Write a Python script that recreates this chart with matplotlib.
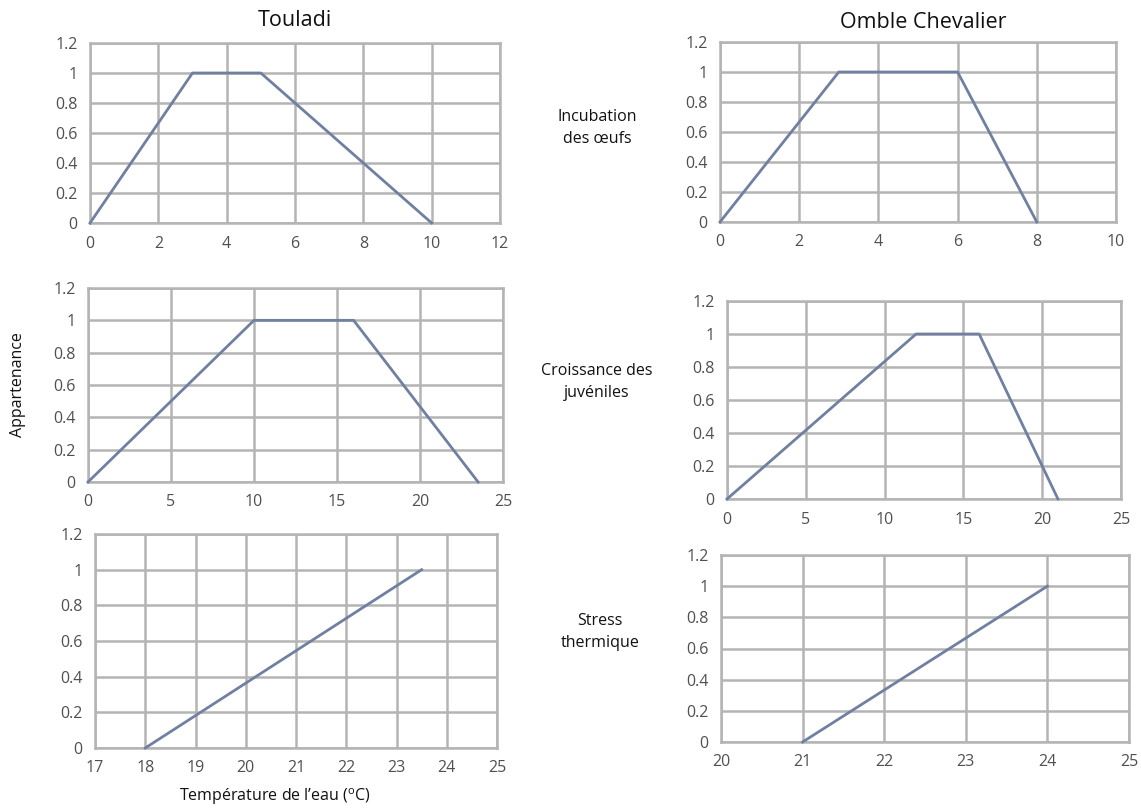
import matplotlib
matplotlib.use("Agg")
import matplotlib.pyplot as plt

plt.rcParams['font.family'] = ['Open Sans', 'DejaVu Sans']
plt.rcParams['mathtext.fontset'] = 'custom'
plt.rcParams['mathtext.rm'] = 'Open Sans'

# Source data (membership functions, temperature in degC)
touladi_incub_x = [0, 3, 5, 10]
touladi_incub_y = [0, 1, 1, 0]
omble_incub_x = [0, 3, 6, 8]
omble_incub_y = [0, 1, 1, 0]

touladi_juv_x = [0, 10, 16, 23.5]
touladi_juv_y = [0, 1, 1, 0]
omble_juv_x = [0, 12, 16, 21]
omble_juv_y = [0, 1, 1, 0]

touladi_stress_x = [18, 23.5]
touladi_stress_y = [0, 1]
omble_stress_x = [21, 24]
omble_stress_y = [0, 1]

y_ticks = [0, 0.2, 0.4, 0.6, 0.8, 1, 1.2]
y_labels = ['0', '0.2', '0.4', '0.6', '0.8', '1', '1.2']

W, H = 1141, 809
fig = plt.figure(figsize=(W / 100, H / 100), dpi=100)

line_col = '#7080a0'
grid_col = '#b4b4b4'
tick_col = '#505050'

panels = [
    # (x0, x1, ytop, ybottom) in pixels, xs, ys, xlim, xstep
    ((90, 500, 43, 223), touladi_incub_x, touladi_incub_y, (0, 12), 2),
    ((720, 1116, 42, 222), omble_incub_x, omble_incub_y, (0, 10), 2),
    ((88, 503, 288, 482), touladi_juv_x, touladi_juv_y, (0, 25), 5),
    ((727, 1121, 301, 499), omble_juv_x, omble_juv_y, (0, 25), 5),
    ((95, 497, 534, 748), touladi_stress_x, touladi_stress_y, (17, 25), 1),
    ((721, 1129, 555, 742), omble_stress_x, omble_stress_y, (20, 25), 1),
]

for (x0, x1, yt, yb), xs, ys, xlim, step in panels:
    ax = fig.add_axes([x0 / W, 1 - yb / H, (x1 - x0) / W, (yb - yt) / H])
    ax.plot(xs, ys, color=line_col, linewidth=2.0, zorder=3, clip_on=False)
    ax.set_xlim(*xlim)
    ax.set_ylim(0, 1.2)
    ax.set_xticks(list(range(xlim[0], xlim[1] + 1, step)))
    ax.set_yticks(y_ticks)
    ax.set_yticklabels(y_labels)
    ax.grid(True, color=grid_col, linewidth=1.8)
    ax.set_axisbelow(True)
    for s in ax.spines.values():
        s.set_color(grid_col)
        s.set_linewidth(1.8)
    ax.tick_params(length=0, labelsize=11.5, labelcolor=tick_col, pad=9)

# Column titles
fig.text(295 / W, 1 - 20 / H, 'Touladi', ha='center', va='center', fontsize=15.5, color='#111111')
fig.text(923 / W, 1 - 22 / H, 'Omble Chevalier', ha='center', va='center', fontsize=15.5, color='#111111')

# Row labels
fig.text(597 / W, 1 - 128 / H, 'Incubation\ndes œufs', ha='center', va='center', fontsize=11.5,
         color='#111111', linespacing=1.5)
fig.text(597 / W, 1 - 382 / H, 'Croissance des\njuvéniles', ha='center', va='center', fontsize=11.5,
         color='#111111', linespacing=1.5)
fig.text(600 / W, 1 - 632 / H, 'Stress\nthermique', ha='center', va='center', fontsize=11.5,
         color='#111111', linespacing=1.5)

# Axis labels
fig.text(18 / W, 1 - 385 / H, 'Appartenance', ha='center', va='center', rotation=90, fontsize=11.5,
         color='#111111')
fig.text(275 / W, 1 - 797 / H, 'Température de l’eau ($^{\\mathrm{o}}$C)', ha='center', va='center',
         fontsize=11.5, color='#111111')

fig.savefig('out.png', dpi=100)
